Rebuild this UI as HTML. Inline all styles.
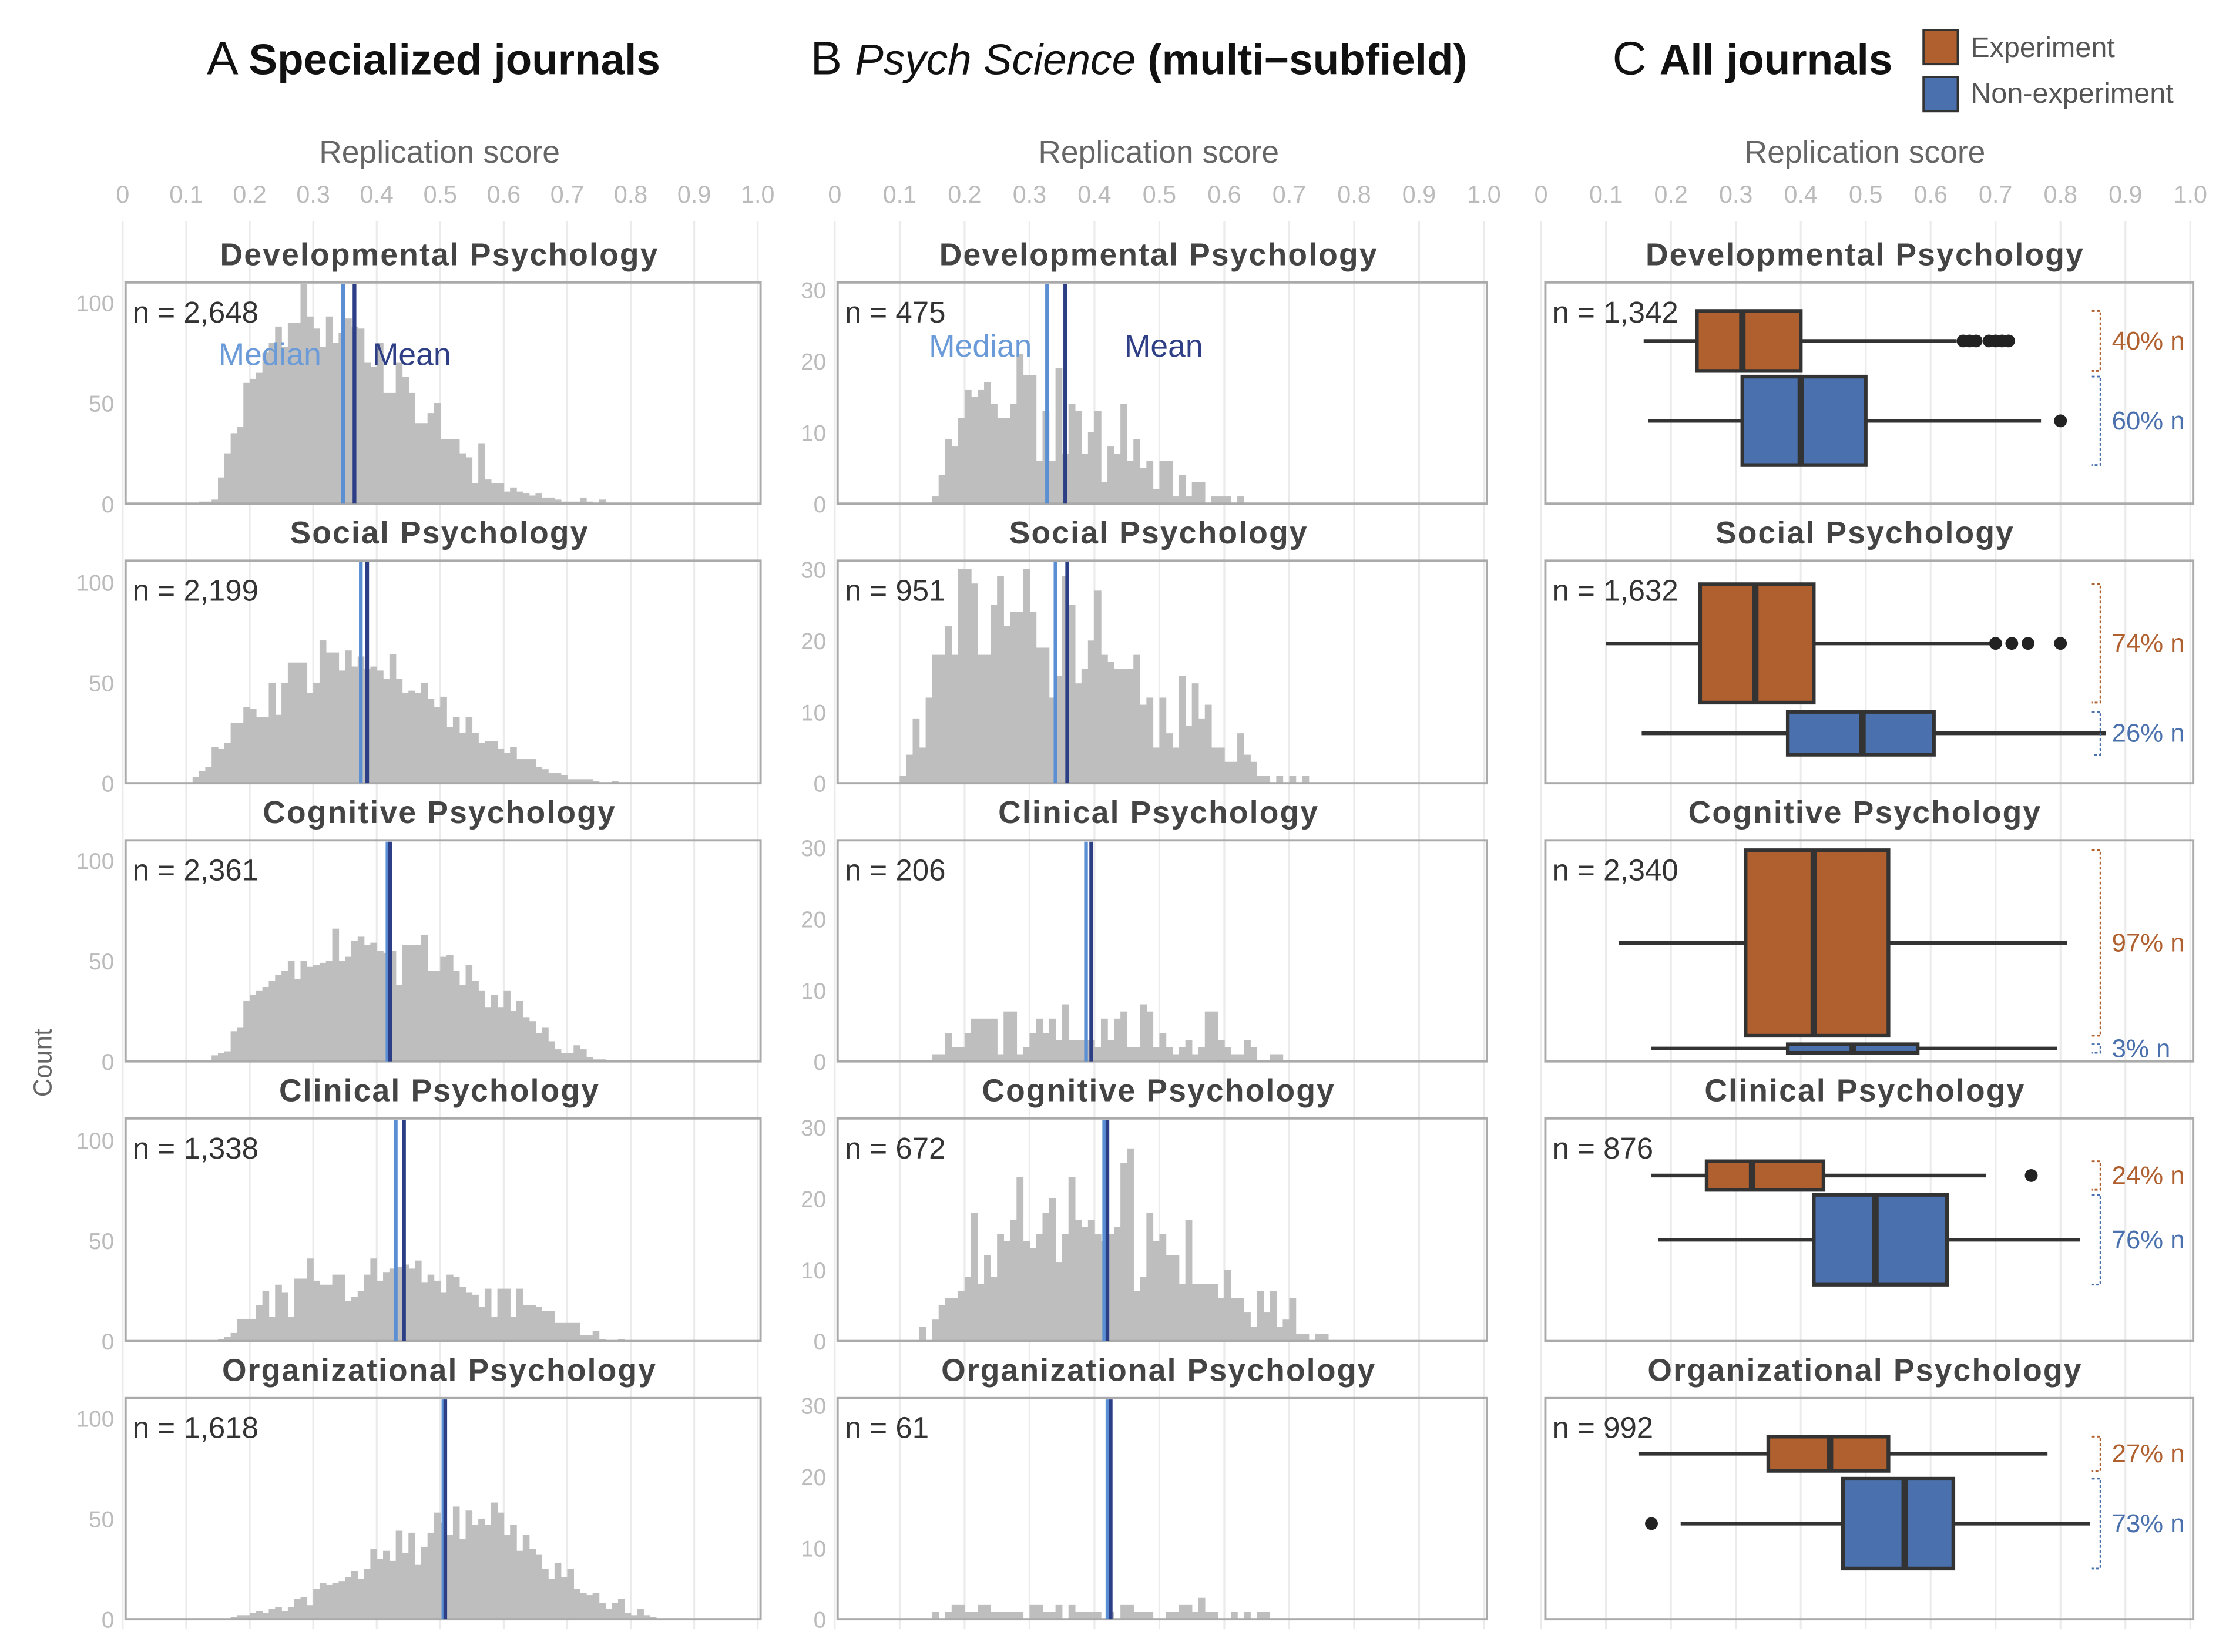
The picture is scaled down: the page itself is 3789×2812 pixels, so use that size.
<!DOCTYPE html>
<html><head><meta charset="utf-8">
<style>
html,body{margin:0;padding:0;background:#fff;}
svg{display:block;}
text{font-family:"Liberation Sans",Arial,sans-serif;}
</style></head>
<body>
<svg id="chart" xmlns="http://www.w3.org/2000/svg" width="3789" height="2812" viewBox="0 0 1560 1158" preserveAspectRatio="none">
<rect x="0" y="0" width="1560" height="1158" fill="#fff"/>
<g id="titles">
  <text x="145" y="52" font-size="33" fill="#111">A <tspan font-weight="bold" font-size="30">Specialized journals</tspan></text>
  <text x="568" y="52" font-size="33" fill="#111">B <tspan font-style="italic" font-size="30">Psych Science</tspan><tspan font-weight="bold" font-size="30"> (multi−subfield)</tspan></text>
  <text x="1130" y="52" font-size="33" fill="#111">C <tspan font-weight="bold" font-size="30">All journals</tspan></text>
  <g>
    <rect x="1348" y="21" width="24" height="24" fill="#b0602f" stroke="#333" stroke-width="1.5"/>
    <text x="1381" y="40" font-size="20" fill="#555">Experiment</text>
    <rect x="1348" y="54" width="24" height="24" fill="#4a71ad" stroke="#333" stroke-width="1.5"/>
    <text x="1381" y="72" font-size="20" fill="#555">Non-experiment</text>
  </g>
  <text transform="translate(36,745) rotate(-90)" font-size="18" fill="#666" text-anchor="middle">Count</text>
</g>
<g id="plots"></g>
</svg>
<script>
// ---------- data ----------
const rowNames = ["Developmental Psychology","Social Psychology","Cognitive Psychology","Clinical Psychology","Organizational Psychology"];
const rowNamesB = ["Developmental Psychology","Social Psychology","Clinical Psychology","Cognitive Psychology","Organizational Psychology"];
const nLabelsA = ["2,648","2,199","2,361","1,338","1,618"];
const nLabelsB = ["475","951","206","672","61"];
const nLabelsC = ["1,342","1,632","2,340","876","992"];
const xTicks = [0,0.1,0.2,0.3,0.4,0.5,0.6,0.7,0.8,0.9,1.0];
const xTickLabels = ["0","0.1","0.2","0.3","0.4","0.5","0.6","0.7","0.8","0.9","1.0"];
const yTicksA = [0,50,100];
const yTicksB = [0,10,20,30];
const binWidth = 0.01;

const histStartA = [0.12,0.11,0.14,0.15,0.17];
const histA0 = [1,1,2,13,25,35,38,60,62,65,75,80,88,78,90,90,109,93,87,78,93,80,85,92,88,87,70,68,80,55,55,70,63,55,40,40,45,50,32,32,32,25,23,10,30,12,10,10,6,8,6,5,4,5,3,3,2,1,1,1,3,1,0,2];
const histA1 = [3,6,8,18,17,20,30,30,38,37,33,33,50,34,50,60,60,60,45,50,71,65,65,56,66,58,63,57,58,56,52,64,52,45,46,45,50,42,38,43,28,33,25,33,25,20,21,21,17,15,18,12,12,12,8,7,5,5,4,2,2,2,2,1,0,0,1];
const histA2 = [3,4,5,15,17,30,33,35,37,40,43,45,50,41,50,47,48,49,50,66,50,52,60,62,58,59,55,54,55,38,58,58,58,63,45,45,52,53,45,38,48,40,35,27,33,27,35,25,30,22,20,14,17,10,6,4,4,8,6,2,1,1];
const histA3 = [1,2,4,11,11,11,18,25,12,28,24,12,31,31,41,30,28,28,33,33,20,22,25,33,41,30,34,36,37,38,36,40,29,33,30,24,33,32,27,24,23,17,26,12,26,26,12,26,18,18,17,15,15,9,9,9,9,3,3,5,1,0,0,1];
const histA4 = [1,2,2,3,4,3,5,6,4,6,10,11,7,15,18,17,18,19,21,24,20,25,35,30,34,29,44,33,43,27,36,43,53,48,42,56,40,54,47,50,47,58,53,42,47,34,42,35,32,25,20,28,21,25,15,13,12,13,8,5,8,10,3,2,5,2,1];
const medianA = [0.347,0.375,0.417,0.43,0.505];
const meanA = [0.365,0.385,0.421,0.443,0.508];

const histStartB = [0.15,0.10,0.15,0.13,0.15];
const histB0 = [1,4,9,8,12,16,15,16,17,14,12,12,14,21,18,18,6,13,6,19,7,14,13,7,10,13,3,8,7,14,6,9,5,6,2,6,6,1,4,1,3,3,0,1,1,1,0,1];
const histB1 = [1,4,9,5,12,18,18,22,18,30,30,28,18,18,25,29,22,24,24,30,24,19,19,12,15,29,25,14,16,20,27,18,17,16,16,16,18,11,12,5,12,7,5,15,8,14,9,11,5,5,3,3,7,4,3,1,1,0,1,0,1,0,1];
const histB2 = [1,1,4,2,2,4,6,6,6,6,1,7,7,1,2,4,6,4,6,3,8,3,3,3,3,2,6,3,6,7,2,2,8,7,2,4,2,1,2,3,1,2,7,7,3,2,1,1,3,2,0,0,1,1];
const histB3 = [2,0,3,5,6,6,7,9,18,8,12,9,15,14,17,23,14,13,15,18,20,11,15,23,17,16,17,15,14,15,16,25,27,7,9,18,14,15,12,12,8,17,8,8,8,8,6,10,6,6,4,2,7,4,7,2,3,6,1,1,0,1,1];
const histB4 = [1,0,1,2,2,1,1,2,2,1,1,1,1,1,0,2,2,1,1,2,0,2,1,1,1,1,0,1,0,2,2,1,1,1,0,0,1,1,2,2,1,3,1,1,0,0,1,0,1,0,1,1];
const medianB = [0.327,0.34,0.387,0.415,0.42];
const meanB = [0.355,0.358,0.395,0.42,0.425];

// box stats: [whiskerLow, q1, median, q3, whiskerHigh]
const boxExp = [[0.158,0.24,0.31,0.40,0.64],[0.10,0.245,0.33,0.42,0.69],[0.12,0.315,0.42,0.535,0.81],[0.17,0.255,0.325,0.435,0.685],[0.15,0.35,0.445,0.535,0.78]];
const boxNon = [[0.165,0.31,0.40,0.50,0.77],[0.155,0.38,0.495,0.605,0.87],[0.17,0.38,0.48,0.58,0.795],[0.18,0.42,0.515,0.625,0.83],[0.215,0.465,0.56,0.635,0.845]];
const outExp = [[0.65,0.66,0.67,0.69,0.70,0.71,0.72],[0.70,0.725,0.75,0.80],[],[0.755],[]];
const outNon = [[0.80],[],[],[],[0.17]];
const shareExp = ["40% n","74% n","97% n","24% n","27% n"];
const shareNon = ["60% n","26% n","3% n","76% n","73% n"];

// ---------- layout (not data) ----------
const boxTop = [198,393,589,784,980];
const boxBot = [353,549,744,940,1135];
const colA = {x0:88,x1:533,v0:86,v1:531,cx:308};
const colB = {x0:587,x1:1042,v0:585,v1:1040,cx:812};
const colC = {x0:1083,x1:1537,v0:1080,v1:1535,cx:1307};
const cExpY = [41,58,72,40,39], cExpH = [42,83,130,20,24];
const cNonY = [97,121,146,85,88], cNonH = [62,30,6,63,63];

const NS = "http://www.w3.org/2000/svg";
const root = document.getElementById('plots');
function el(tag, attrs, parent){
  const e = document.createElementNS(NS, tag);
  for (const k in attrs) e.setAttribute(k, attrs[k]);
  (parent||root).appendChild(e);
  return e;
}
function xs(col){ return v => col.v0 + (col.v1-col.v0)*v; }

function drawColumnFrame(col, key){
  const sx = xs(col);
  const g = el('g', {});
  
  
  const t = el('text', {x:col.cx, y:114, 'font-size':22, fill:'#666', 'text-anchor':'middle'}, g);
  
  
  t.textContent = 'Replication score';
  xTicks.forEach((v,i)=>{
    const tl = el('text', {x:sx(v), y:142, 'font-size':17, fill:'#bbb', 'text-anchor':'middle'}, g);
    
    
    tl.textContent = xTickLabels[i];
    const gl = el('line', {x1:sx(v), x2:sx(v), y1:155, y2:1142, stroke:'#ebebeb', 'stroke-width':1.3}, g);
    
    
  });
}

function strip(col, r, name, key){
  const s = el('text', {x:col.cx, y:boxTop[r]-12, 'font-size':22, 'font-weight':'bold', 'letter-spacing':'0.9', fill:'#444', 'text-anchor':'middle'});
  
  
  s.textContent = name;
}
function frame(col, r, key){
  const b = el('rect', {x:col.x0, y:boxTop[r], width:col.x1-col.x0, height:boxBot[r]-boxTop[r], fill:'none', stroke:'#aaa', 'stroke-width':1.6});
  
  
}
function nLabel(col, r, txt, key){
  const t = el('text', {x:col.x0+5, y:boxTop[r]+28, 'font-size':21, fill:'#333'});
  
  
  t.textContent = 'n = '+txt;
}

function drawHist(col, key, r, start, counts, yMax, ticks, med, mean){
  const sx = xs(col);
  const y0 = boxBot[r];
  const pxPer = (key==='a') ? 141/100 : 150/30;
  const sy = c => y0 - c*pxPer;
  strip(col, r, key==='a'?rowNames[r]:rowNamesB[r], key);
  ticks.forEach(t=>{
    const tl = el('text', {x:col.x0-8, y:sy(t)+6, 'font-size':16, fill:'#bbb', 'text-anchor':'end'});
    
    
    tl.textContent = String(t);
  });
  const g = el('g', {});
  
  
  counts.forEach((c,i)=>{
    if (c<=0) return;
    const v = start + i*binWidth;
    const top = Math.max(sy(c), boxTop[r]-10);
    const b = el('rect', {x:sx(v), y:top, width:sx(v+binWidth)-sx(v)+0.3, height:y0-top, fill:'#bebebe'}, g);
    
    
  });
  frame(col, r, key);
  const lm = el('line', {x1:sx(med), x2:sx(med), y1:boxTop[r]+1, y2:y0, stroke:'#5b8fd4', 'stroke-width':2.6});
  
  
  const ln = el('line', {x1:sx(mean), x2:sx(mean), y1:boxTop[r]+1, y2:y0, stroke:'#2c3e85', 'stroke-width':2.6});
  
  
}

function drawBoxRow(r){
  const col = colC, sx = xs(col);
  strip(col, r, rowNames[r], 'c');
  frame(col, r, 'c');
  const groups = [
    {st:boxExp[r], out:outExp[r], cy:boxTop[r]+cExpY[r], h:cExpH[r], fill:'#b0602f', lab:shareExp[r], name:'experiment'},
    {st:boxNon[r], out:outNon[r], cy:boxTop[r]+cNonY[r], h:cNonH[r], fill:'#4a71ad', lab:shareNon[r], name:'non-experiment'}
  ];
  groups.forEach(gr=>{
    const s = gr.st;
    const g = el('g', {});
    
    
    el('line', {x1:sx(s[0]), x2:sx(s[1]), y1:gr.cy, y2:gr.cy, stroke:'#333', 'stroke-width':2.6}, g);
    el('line', {x1:sx(s[3]), x2:sx(s[4]), y1:gr.cy, y2:gr.cy, stroke:'#333', 'stroke-width':2.6}, g);
    el('rect', {x:sx(s[1]), y:gr.cy-gr.h/2, width:sx(s[3])-sx(s[1]), height:gr.h, fill:gr.fill, stroke:'#333', 'stroke-width':2.6}, g);
    el('line', {x1:sx(s[2]), x2:sx(s[2]), y1:gr.cy-gr.h/2, y2:gr.cy+gr.h/2, stroke:'#333', 'stroke-width':4.5}, g);
    gr.out.forEach(o=>{
      const c = el('circle', {cx:sx(o), cy:gr.cy, r:4.5, fill:'#222'}, g);
      
      
    });
    const bh = Math.max(gr.h, 6);
    const br = el('path', {d:'M1466 '+(gr.cy-bh/2)+' H1472 V'+(gr.cy+bh/2)+' H1466', fill:'none', stroke:gr.fill, 'stroke-width':1.2, 'stroke-dasharray':'2,1.5'}, g);
    
    
    const t = el('text', {x:1480, y:gr.cy+6, 'font-size':18, fill:gr.fill}, g);
    
    
    t.textContent = gr.lab;
  });
  nLabel(col, r, nLabelsC[r], 'c');
}

drawColumnFrame(colA,'a'); drawColumnFrame(colB,'b'); drawColumnFrame(colC,'c');
const histsA = [histA0,histA1,histA2,histA3,histA4];
const histsB = [histB0,histB1,histB2,histB3,histB4];
for (let r=0;r<5;r++){
  drawHist(colA,'a',r,histStartA[r],histsA[r],100,yTicksA,medianA[r],meanA[r]);
  nLabel(colA, r, nLabelsA[r], 'a');
  drawHist(colB,'b',r,histStartB[r],histsB[r],30,yTicksB,medianB[r],meanB[r]);
  nLabel(colB, r, nLabelsB[r], 'b');
  drawBoxRow(r);
}
// median / mean annotations
const ann = [
  {x:153,y:256,t:'Median',c:'#6a9bd8',n:'median-annotation-a'},
  {x:261,y:256,t:'Mean',c:'#2f3f86',n:'mean-annotation-a'},
  {x:651,y:250,t:'Median',c:'#6a9bd8',n:'median-annotation-b'},
  {x:788,y:250,t:'Mean',c:'#2f3f86',n:'mean-annotation-b'}
];
ann.forEach(a=>{
  const t = el('text', {x:a.x, y:a.y, 'font-size':22, fill:a.c});
  
  
  t.textContent = a.t;
});
</script>
</body></html>
